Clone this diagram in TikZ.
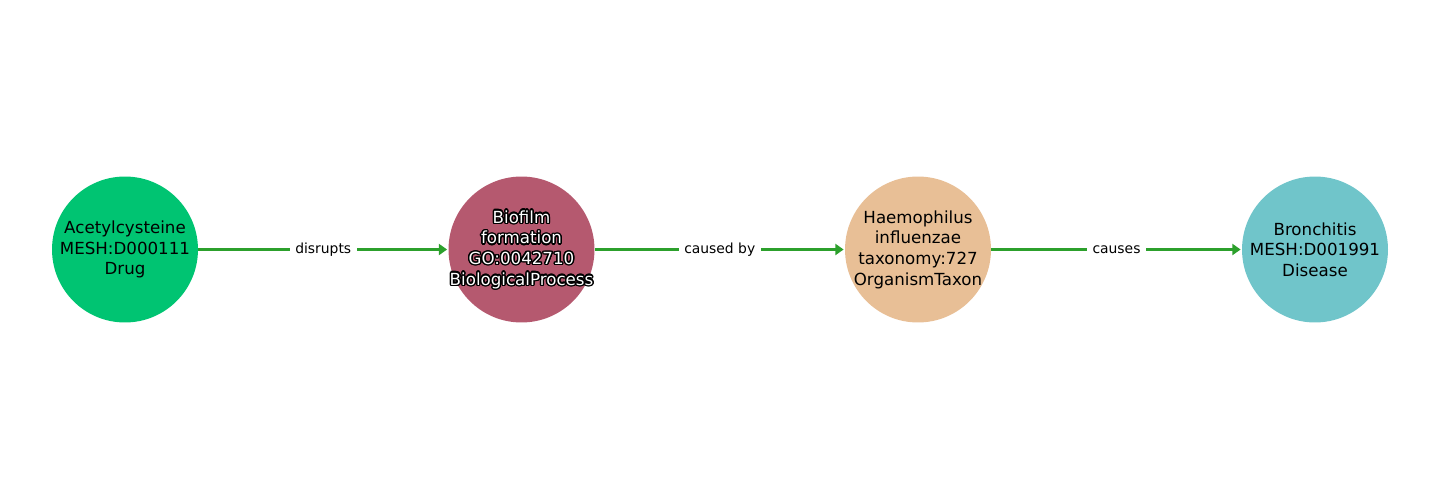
\documentclass[tikz,border=0pt]{standalone}
\usepackage{fontspec}
\setmainfont{DejaVu Sans}
\usetikzlibrary{arrows.meta}
\definecolor{cdrug}{HTML}{00C472}
\definecolor{cbio}{HTML}{B5596F}
\definecolor{corg}{HTML}{E8BF96}
\definecolor{cdis}{HTML}{70C5CA}
\definecolor{cedge}{HTML}{2CA02C}
\tikzset{
  ent/.style={circle, minimum size=105.1pt, inner sep=0pt, draw=none},
  ntext/.style={align=center, inner sep=0pt, font=\fontsize{12}{14.9}\selectfont},
  edge/.style={draw=cedge, line width=2.8pt, -{Triangle[length=6pt,width=8pt]}, shorten >=0.8pt},
  lbl/.style={fill=white, inner xsep=4pt, inner ysep=2pt, font=\fontsize{10}{12}\selectfont, text=black}
}
\begin{document}
\begin{tikzpicture}[x=0.72pt, y=-0.72pt]
\useasboundingbox (0,0) rectangle (1440,500);
\node[ent, fill=cdrug] (a) at (125,249.5) {};
\node[ent, fill=cbio] (b) at (521.5,249.5) {};
\node[ent, fill=corg] (c) at (918,249.5) {};
\node[ent, fill=cdis] (d) at (1315,249.5) {};
\node[ntext] (ta) at (a) {Acetylcysteine\\MESH:D000111\\Drug};
\foreach \ang in {0,22.5,...,337.5}
  \node[ntext, text=black] at ([shift={(\ang:1pt)}]b) {Biofilm\\formation\\GO:0042710\\BiologicalProcess};
\node[ntext, text=white] (tb) at (b) {Biofilm\\formation\\GO:0042710\\BiologicalProcess};
\node[ntext] (tc) at (c) {Haemophilus\\influenzae\\taxonomy:727\\OrganismTaxon};
\node[ntext] (td) at (d) {Bronchitis\\MESH:D001991\\Disease};
\draw[edge] (a) -- node[lbl] {disrupts} (b);
\draw[edge] (b) -- node[lbl] {caused by} (c);
\draw[edge] (c) -- node[lbl] {causes} (d);
\end{tikzpicture}
\end{document}
